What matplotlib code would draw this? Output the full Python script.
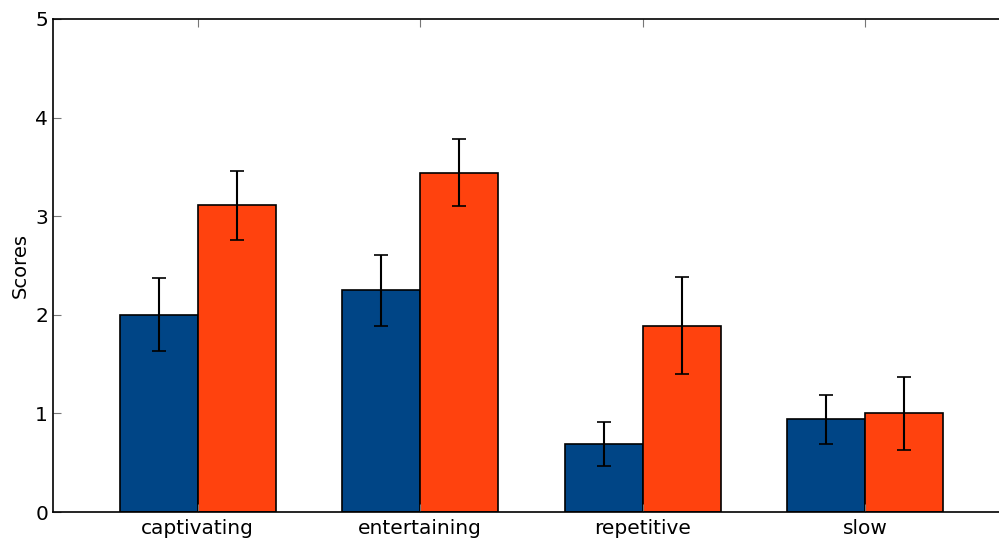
import numpy as np
import matplotlib
matplotlib.use("Agg")
import matplotlib.pyplot as plt

categories = ["captivating", "entertaining", "repetitive", "slow"]
group_a = [2.00, 2.25, 0.69, 0.94]
group_a_err = [0.37, 0.36, 0.22, 0.25]
group_b = [3.11, 3.44, 1.89, 1.00]
group_b_err = [0.35, 0.34, 0.49, 0.37]
y_ticks = [0, 1, 2, 3, 4, 5]

width = 0.35
ind = np.arange(len(categories))

fig = plt.figure(figsize=(9.99, 5.40), dpi=100)
ax = fig.add_axes([53 / 999, 28 / 540, (1010 - 53) / 999, (512 - 19) / 540])

err_kw = dict(ecolor="black", elinewidth=1.5, capsize=5, capthick=1.2)
ax.bar(ind, group_a, width, yerr=group_a_err, color="#004586",
       edgecolor="black", linewidth=1.2, align="edge", error_kw=err_kw)
ax.bar(ind + width, group_b, width, yerr=group_b_err, color="#ff420e",
       edgecolor="black", linewidth=1.2, align="edge", error_kw=err_kw)

ax.set_xlim(-0.3, 4.0)
ax.set_ylim(0, 5)
ax.set_yticks(y_ticks)
ax.set_xticks(ind + width)
ax.set_xticklabels(categories)
ax.set_ylabel("Scores", fontsize=14)

ax.tick_params(axis="both", direction="in", labelsize=14.5, length=6,
               color="#777777", top=True, right=True)
ax.tick_params(axis="x", pad=5)
for s in ax.spines.values():
    s.set_linewidth(1.2)

fig.savefig("out.png", dpi=100)
